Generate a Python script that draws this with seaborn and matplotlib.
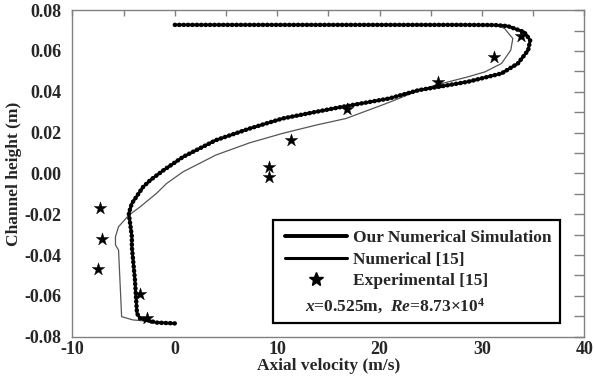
import matplotlib
matplotlib.use("Agg")
import matplotlib.pyplot as plt
import seaborn as sns
from matplotlib.lines import Line2D
from matplotlib.patches import Rectangle
from matplotlib.ticker import MultipleLocator, FormatStrFormatter

# ---- data ----
sim_u = [0, 10, 20, 28, 31.3, 32.5, 34.1, 34.7, 34.5, 33.5, 31.9, 28.6, 25.7, 23.8,
         20.9, 16.3, 13.8, 10.5, 7.3, 4.0, 0.8, -1.1, -2.4, -3.1, -4.2, -4.5, -4.2,
         -4.2, -3.9, -3.7, -3.4, -1.8, 0]
sim_y = [0.0728, 0.0728, 0.0728, 0.0728, 0.0727, 0.0722, 0.0693, 0.0653, 0.0604,
         0.0539, 0.049, 0.0449, 0.0424, 0.0408, 0.0367, 0.0326, 0.0302, 0.0269,
         0.022, 0.0163, 0.0081, 0.0016, -0.0033, -0.0066, -0.0147, -0.0196, -0.031,
         -0.036, -0.0522, -0.0686, -0.071, -0.0731, -0.0735]

num_u = [0, 20, 30, 31.4, 32.2, 33.0, 32.8, 31.9, 30.3, 28.6, 25.4, 23.5, 20.5, 16.7,
         13.8, 10.5, 7.3, 4.0, 0.8, -0.8, -1.8, -3.4, -4.5, -5.5, -5.8, -5.8, -5.5,
         -5.2, -4.1, -0.1]
num_y = [0.0728, 0.0728, 0.0728, 0.0727, 0.071, 0.0661, 0.0604, 0.0539, 0.0498,
         0.0473, 0.0432, 0.040, 0.034, 0.0269, 0.0237, 0.0196, 0.015, 0.009, 0.0008,
         -0.0049, -0.0098, -0.0164, -0.0205, -0.0261, -0.031, -0.0351, -0.0376,
         -0.0702, -0.0718, -0.0735]

exp_u = [33.8, 31.2, 25.7, 16.8, 11.3, 9.2, 9.2, -7.3, -7.1, -7.5, -3.4, -2.75]
exp_y = [0.0672, 0.0571, 0.0449, 0.0318, 0.0163, 0.0032, -0.0017, -0.0171, -0.0323,
         -0.047, -0.0591, -0.071]

labels = ["Our Numerical Simulation", "Numerical [15]", "Experimental [15]"]
note = r"$\mathit{x}$=0.525m,  $\mathit{Re}$=8.73×10$^{4}$"

sns.set_style("white")
plt.rcParams["font.family"] = ["Liberation Serif", "DejaVu Serif"]
plt.rcParams["font.weight"] = "bold"
plt.rcParams["axes.unicode_minus"] = False
plt.rcParams["mathtext.fontset"] = "custom"
plt.rcParams["mathtext.it"] = "Liberation Serif:italic:bold"
plt.rcParams["mathtext.rm"] = "Liberation Serif:bold"
plt.rcParams["mathtext.bf"] = "Liberation Serif:bold"

fig = plt.figure(figsize=(5.94, 3.77), dpi=100)
ax = fig.add_axes([0.122, 0.107, 0.862, 0.866])

# thin numerical line
sns.lineplot(x=num_u, y=num_y, sort=False, estimator=None, color="#555555",
             lw=0.9, ax=ax)
# thick beaded simulation line
sns.lineplot(x=sim_u, y=sim_y, sort=False, estimator=None, color="black",
             lw=2.0, ax=ax)
ax.plot(sim_u, sim_y, color="black", lw=3.3, linestyle=(0, (0.01, 0.95)),
        dash_capstyle="round", solid_joinstyle="round")
# experimental stars
sns.scatterplot(x=exp_u, y=exp_y, marker="*", s=90, color="black",
                edgecolor="black", linewidth=0.3, ax=ax, zorder=5)

ax.set_xlim(-10, 40)
ax.set_ylim(-0.08, 0.08)
ax.xaxis.set_major_locator(MultipleLocator(10))
ax.xaxis.set_minor_locator(MultipleLocator(5))
ax.yaxis.set_major_locator(MultipleLocator(0.02))
ax.yaxis.set_minor_locator(MultipleLocator(0.01))
ax.yaxis.set_major_formatter(FormatStrFormatter("%.2f"))

spc = "#808080"
for s in ax.spines.values():
    s.set_color(spc)
    s.set_linewidth(1.0)
ax.tick_params(axis="both", which="both", direction="in", top=True, right=True,
               color=spc, width=1.0, labelsize=13)
ax.tick_params(axis="x", which="both", length=4, pad=3)
ax.tick_params(axis="y", which="both", length=7, pad=8)
for lab in ax.get_xticklabels() + ax.get_yticklabels():
    lab.set_fontweight("bold")

ax.set_xlabel("Axial velocity (m/s)", fontsize=12.5, fontweight="bold", labelpad=0)
ax.set_ylabel("Channel height (m)", fontsize=12.5, fontweight="bold", labelpad=2)

# legend box
ax.add_patch(Rectangle((0.391, 0.043), 0.562, 0.314, transform=ax.transAxes,
                       fill=False, edgecolor="black", lw=1.6, zorder=6))
h1 = Line2D([], [], color="black", lw=2.8)
h2 = Line2D([], [], color="black", lw=2.2)
h3 = Line2D([], [], color="black", marker="*", ls="none", markersize=10)
leg = ax.legend([h1, h2, h3], labels, loc="upper left",
                bbox_to_anchor=(0.415, 0.327), frameon=False,
                prop={"family": "Liberation Serif", "weight": "bold", "size": 12.5},
                handlelength=3.6, handletextpad=0.3, labelspacing=0.32,
                borderaxespad=0, borderpad=0)
ax.text(0.455, 0.092, note, transform=ax.transAxes, fontsize=12.5,
        fontweight="bold", va="center", ha="left", zorder=7)

fig.savefig("out.png", dpi=100)
